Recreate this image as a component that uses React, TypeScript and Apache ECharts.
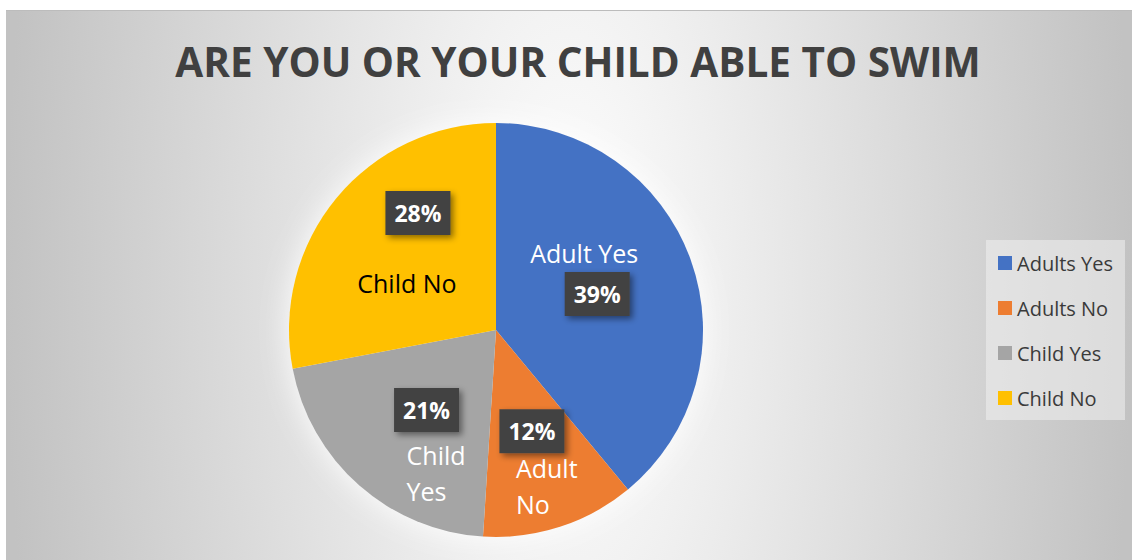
import React, { useEffect, useRef } from "react";
import * as echarts from "echarts";

const titleText = "ARE YOU OR YOUR CHILD ABLE TO SWIM";
const categories = ["Adults Yes", "Adults No", "Child Yes", "Child No"];
const sliceNames = [["Adult Yes"], ["Adult", "No"], ["Child", "Yes"], ["Child No"]];
const shares = [39, 12, 21, 28];

const colors = ["#4472C4", "#ED7D31", "#A5A5A5", "#FFC000"];
const nameColors = ["#ffffff", "#ffffff", "#ffffff", "#000000"];
// label nudges (px) relative to the pie's default inside anchor
const nameShift = [[-12, -41], [18, 55], [11, 63], [-7, 21]];
const pctShift = [[1, 0], [3, 0], [1, 0], [4, -49]];
const blockWidth = [0, 62, 60, 0];

const FONT = "'Open Sans', 'Noto Sans', sans-serif";

export default function App() {
  const ref = useRef<HTMLDivElement>(null);

  useEffect(() => {
    if (!ref.current) return;
    const chart = echarts.init(ref.current, undefined, { renderer: "svg" });
    const center = [490, 319];
    const radius = 207;

    const nameData = categories.map((c, i) => {
      const lines = sliceNames[i];
      const multi = lines.length > 1;
      return {
        name: c,
        value: shares[i],
        itemStyle: { color: colors[i] },
        label: {
          color: nameColors[i],
          formatter: multi ? lines.map((l) => "{b|" + l + "}").join("\n") : lines[0],
          rich: multi
            ? {
                b: {
                  width: blockWidth[i],
                  align: "left",
                  fontSize: 25,
                  lineHeight: 36,
                  fontFamily: FONT,
                  color: nameColors[i],
                },
              }
            : undefined,
        },
      };
    });

    chart.setOption({
      animation: false,
      backgroundColor: "transparent",
      graphic: [
        {
          type: "text",
          x: 572,
          y: 50,
          style: {
            text: titleText,
            fontSize: 40.5,
            fontWeight: "bold",
            fontFamily: FONT,
            fill: "#404040",
            align: "center",
            verticalAlign: "middle",
          },
        },
      ],
      legend: {
        data: categories,
        orient: "vertical",
        left: 980,
        top: 229,
        padding: [13, 12, 12, 12],
        backgroundColor: "rgba(240,240,240,0.55)",
        itemWidth: 14,
        itemHeight: 14,
        itemGap: 25,
        icon: "rect",
        selectedMode: false,
        textStyle: { fontSize: 20, lineHeight: 20, color: "#3a3a3a", fontFamily: FONT },
      },
      series: [
        {
          type: "pie",
          center,
          radius,
          silent: true,
          z: 1,
          data: [{ value: 1, name: "_backdrop" }],
          itemStyle: { color: "#f7f7f7", shadowBlur: 30, shadowColor: "rgba(255,255,255,0.95)" },
          label: { show: false },
          labelLine: { show: false },
        },
        {
          type: "pie",
          center,
          radius,
          startAngle: 90,
          clockwise: true,
          z: 2,
          data: nameData,
          label: {
            show: true,
            position: "inside",
            fontSize: 25,
            fontFamily: FONT,
          },
          labelLine: { show: false },
          labelLayout: (p: any) => ({ dx: nameShift[p.dataIndex][0], dy: nameShift[p.dataIndex][1] }),
          emphasis: { disabled: true },
        },
        {
          type: "pie",
          center,
          radius,
          startAngle: 90,
          clockwise: true,
          z: 3,
          silent: true,
          data: categories.map((c, i) => ({ name: c, value: shares[i] })),
          itemStyle: { color: "rgba(0,0,0,0)" },
          label: {
            show: true,
            position: "inside",
            formatter: (p: any) => Math.round(p.percent) + "%",
            color: "#ffffff",
            fontSize: 23,
            fontWeight: "bold",
            fontFamily: FONT,
            lineHeight: 23,
            backgroundColor: "#434343",
            padding: [11, 9, 10, 9],
            shadowColor: "rgba(0,0,0,0.45)",
            shadowBlur: 6,
            shadowOffsetX: 3,
            shadowOffsetY: 3,
          },
          labelLine: { show: false },
          labelLayout: (p: any) => ({ dx: pctShift[p.dataIndex][0], dy: pctShift[p.dataIndex][1] }),
          emphasis: { disabled: true },
        },
      ],
    });

    return () => chart.dispose();
  }, []);

  return (
    <div
      style={{
        position: "absolute",
        left: 6,
        top: 10,
        width: 1126,
        height: 550,
        boxSizing: "border-box",
        borderTop: "1px solid #bcbcbc",
        background:
          "radial-gradient(ellipse 563px 1400px at 50% 50%, #ffffff 0%, #c2c2c2 100%)",
      }}
    >
      <div ref={ref} style={{ width: 1126, height: 549 }} />
    </div>
  );
}
